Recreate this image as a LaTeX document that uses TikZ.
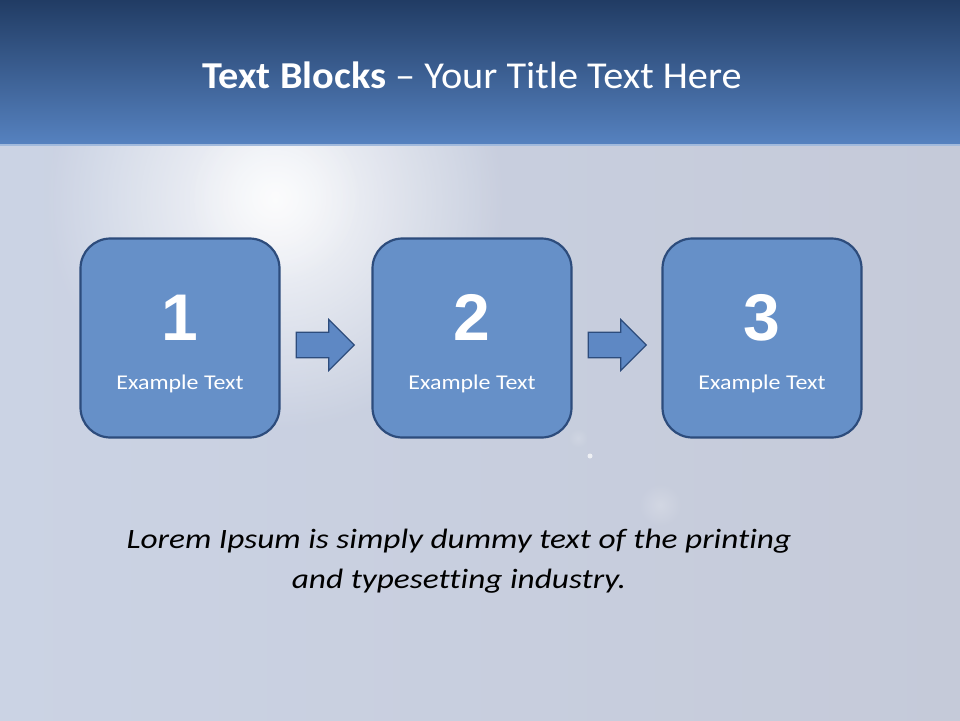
\documentclass[tikz,border=0pt]{standalone}
\usepackage{fontspec}
\setmainfont{Carlito}[Ligatures={NoCommon}]
\newfontfamily\numfont{Liberation Sans}
\usetikzlibrary{shapes.arrows,calc,fadings}
\definecolor{bgmain}{HTML}{CBD3E4}
\definecolor{bgright}{HTML}{C5CAD9}
\definecolor{titletop}{HTML}{213C64}
\definecolor{titlebot}{HTML}{5682C0}
\definecolor{boxfill}{HTML}{6690C8}
\definecolor{boxline}{HTML}{2D4C7C}
\definecolor{arrfill}{HTML}{5E88C4}
\tikzfading[name=glowfade, inner color=transparent!0, outer color=transparent!100]
\tikzset{
  blockbox/.style={draw=boxline, line width=2.2pt, fill=boxfill, rounded corners=30pt,
    minimum width=199pt, minimum height=199pt, inner sep=0pt},
  bignum/.style={text=white, font=\numfont\bfseries\fontsize{66}{70}\selectfont, inner sep=0pt},
  boxlabel/.style={text=white, font=\fontsize{21}{24}\selectfont, inner sep=0pt},
  blockarrow/.style={single arrow, draw=boxline, line width=1.2pt, fill=arrfill,
    minimum height=58pt, minimum width=51pt, inner sep=6.5pt, single arrow tip angle=90}
}
\begin{document}
\begin{tikzpicture}[x=1pt,y=-1pt]
\useasboundingbox (0,0) rectangle (960,720);
% background body
\shade[left color=bgmain, right color=bgright] (0,145) rectangle (960,720);
\begin{scope}
  \clip (0,145) rectangle (960,720);
  \fill[white, path fading=glowfade, fill opacity=0.9] (275,200) circle (230);
  \fill[white, path fading=glowfade, fill opacity=0.45] (275,195) circle (90);
  \fill[white, path fading=glowfade, fill opacity=0.2] (660,505) circle (22);
  \fill[white, path fading=glowfade, fill opacity=0.15] (578,438) circle (10);
  \fill[white, opacity=0.7] (590,456) circle (2.5);
\end{scope}
% title band
\shade[top color=titletop, bottom color=titlebot] (0,0) rectangle (960,145);
\fill[titlebot!55!white] (0,143.5) rectangle (960,146);
\node[text=white, font=\fontsize{38}{44}\selectfont, anchor=base, inner sep=0pt] (title) at (472,88)
  {\scalebox{1.06}[1]{\textbf{Text Blocks} – Your Title Text Here}};
% boxes
\node[blockbox] (b1) at (180,338) {};
\node[blockbox] (b2) at (472,338) {};
\node[blockbox] (b3) at (762,338) {};
\foreach \i in {1,2,3} {
  \node[bignum, anchor=base] (n\i) at ($(b\i.center)+(0,2)$) {\i};
  \node[boxlabel, anchor=base] (l\i) at ($(b\i.center)+(0,51)$) {\scalebox{1.14}[1]{Example Text}};
}
% arrows
\node[blockarrow, anchor=west] (a1) at ($(b1.east)+(15,7)$) {};
\node[blockarrow, anchor=west] (a2) at ($(b2.east)+(15,7)$) {};
% body text
\node[font=\itshape\fontsize{28}{37}\selectfont, anchor=base, inner sep=0pt] (lorem) at (459,548)
  {\scalebox{1.19}[1]{\setlength{\tabcolsep}{0pt}\begin{tabular}[t]{c}Lorem Ipsum is simply dummy text of the printing\\[3pt] and typesetting industry.\end{tabular}}};
\end{tikzpicture}
\end{document}
